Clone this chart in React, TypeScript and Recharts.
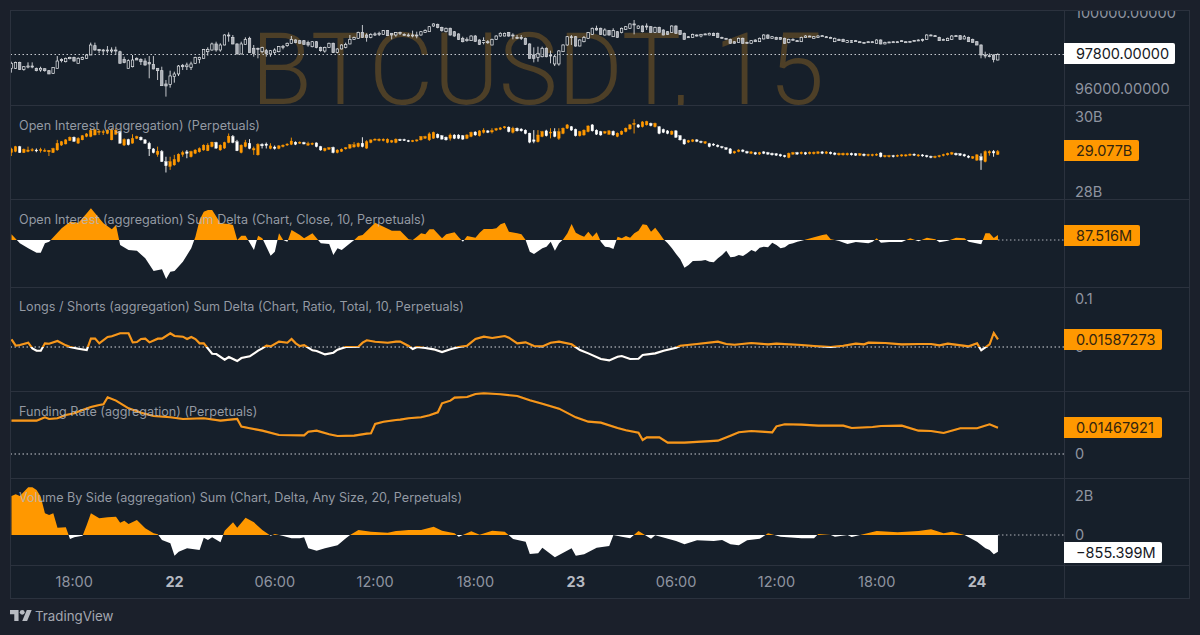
import React from "react";
import { ComposedChart, Bar, Area, Line, XAxis, YAxis, ReferenceLine } from "recharts";

const priceOpen = [97070,97070,97385,97015,97140,97190,97070,96980,97050,96945,96805,97070,97545,97420,97580,97650,97335,97545,97600,97775,98270,98075,98040,98040,98005,98040,97950,97545,97070,97155,97600,97545,97455,97370,97280,97070,96945,96240,96220,96630,96770,97230,97155,97120,97335,97545,97600,97950,98040,98360,98040,98305,98835,98710,98360,97830,98325,98660,98130,98130,97950,98005,97830,97900,97950,98200,98270,98395,98570,98535,98535,98430,98215,98480,98180,97985,98180,98395,97915,98095,98180,98360,98605,98660,98975,98835,98695,98870,98905,98870,99065,98925,98835,98940,98870,98835,98835,98835,98835,98975,99010,99310,99400,99240,99010,99190,99010,98890,98660,98535,98535,98780,98570,98430,98480,98305,98605,98780,98780,98960,98835,98710,98710,98660,98360,97775,97650,97685,98130,97775,97300,97300,97950,98305,98745,98745,98250,98480,98660,98870,99190,99190,98835,99065,98745,99010,98960,99135,99190,99420,99190,99310,99310,99275,98975,99240,99100,99010,98975,99310,99065,98925,98745,98695,98835,98780,98890,98835,98925,98925,98710,98660,98605,98480,98430,98660,98445,98395,98570,98480,98625,98835,98660,98710,98695,98660,98430,98605,98535,98480,98710,98780,98660,98710,98780,98745,98710,98480,98605,98605,98445,98535,98535,98480,98445,98480,98480,98395,98570,98360,98465,98480,98480,98535,98480,98500,98550,98570,98605,98605,98835,98800,98710,98605,98535,98605,98800,98800,98625,98710,98605,98480,98305,97775,97740,97775,97510];
const priceClose = [97335,97385,97015,97155,97190,97140,96945,97070,96945,96770,97105,97455,97475,97600,97650,97455,97600,97650,97775,98305,98040,98005,98025,98025,98040,98005,97335,97370,97475,97510,97510,97420,97245,97300,97035,96945,96150,96135,96665,96770,97190,97155,97245,97300,97650,97650,98075,98075,98360,98040,98305,98835,98800,98360,97830,98360,98605,97900,97865,98095,98165,97865,98005,98040,98220,98235,98395,98605,98430,98395,98340,98305,98480,98165,98005,98180,98395,97900,98095,98305,98340,98605,98695,98975,98710,98710,98870,98890,98925,99065,98800,98835,98960,98960,98855,98820,98820,98820,99010,99065,99275,99420,99225,99065,99190,98835,98780,98605,98480,98605,98780,98500,98340,98535,98430,98605,98780,98925,98925,98780,98820,98695,98695,98340,97600,97600,97865,98130,97685,97760,97685,97990,98305,98745,98730,98250,98570,98710,98960,99190,99100,98870,99100,98835,99065,98710,99190,99275,99420,99400,99310,99010,99295,98975,99240,98975,98835,98870,99310,98925,98870,98605,98730,98870,98820,98870,98870,98925,98800,98710,98695,98640,98395,98395,98660,98395,98430,98535,98480,98660,98835,98660,98745,98605,98605,98395,98605,98590,98515,98710,98780,98745,98745,98780,98800,98730,98695,98660,98535,98480,98535,98445,98515,98465,98430,98465,98465,98570,98360,98445,98445,98465,98465,98515,98465,98480,98535,98550,98590,98835,98820,98780,98535,98590,98660,98780,98780,98605,98745,98480,98445,98305,97775,97760,97720,97545,97800];
const priceHigh = [97420,97420,97420,97190,97385,97385,97105,97155,97070,96980,97105,97720,97600,97635,97685,97685,97650,97685,97830,98430,98430,98095,98095,98250,98180,98215,98005,97685,97545,97775,97650,97600,97600,97720,97720,97070,97155,96450,96945,96890,97245,97300,97370,97420,97685,97685,98095,98180,98430,98480,98395,98870,98975,98835,98395,98480,98710,98745,98305,98165,98215,98095,98040,98130,98250,98305,98430,98780,98605,98570,98570,98535,98515,98515,98215,98215,98430,98430,98130,98340,98430,98835,98745,99010,99365,98925,98925,98975,99010,99100,99100,98925,98995,99010,98925,98925,99065,99010,99045,99135,99310,99450,99435,99275,99225,99225,99045,98925,98745,98710,98820,98835,98605,98710,98570,98640,98820,98975,98960,98995,98925,98835,98835,98695,98395,98180,98215,98215,98180,98005,97775,98040,98340,98780,98835,98780,98605,98780,98995,99225,99330,99225,99190,99100,99190,99045,99225,99310,99450,99630,99345,99345,99450,99310,99275,99275,99135,99045,99345,99345,99100,98960,98780,98905,98870,98890,98925,98960,98960,98960,98745,98675,98640,98515,98695,98695,98480,98570,98605,98695,98870,98870,98780,98745,98730,98695,98640,98660,98570,98745,98820,98800,98780,98820,98835,98780,98745,98695,98640,98640,98570,98570,98570,98500,98465,98500,98500,98605,98605,98480,98480,98500,98500,98550,98500,98515,98570,98605,98640,98870,98870,98835,98745,98640,98695,98835,98835,98835,98835,98745,98640,98515,98340,97950,97865,97810,97865];
const priceLow = [96840,97035,96980,96945,97070,97070,96910,96890,96890,96770,96770,97070,97385,97385,97545,97420,97335,97510,97565,97775,98005,97865,97810,97865,97865,97775,97335,97335,97070,97120,97510,97245,97210,96540,97015,96450,96150,95570,96045,96310,96660,96980,96980,96980,97300,97335,97580,97740,98005,97950,97950,98290,98480,98340,97810,97810,98325,97900,97685,97600,97865,97685,97685,97775,97915,98075,98215,98375,98395,98375,98325,98215,98180,98130,97950,97900,98160,97880,97865,98075,98130,98340,98570,98625,98695,98480,98660,98780,98780,98855,98780,98605,98745,98835,98820,98745,98710,98660,98800,98960,99010,99275,99190,99010,98975,98800,98745,98570,98445,98480,98515,98465,98305,98340,98360,98290,98570,98745,98765,98745,98605,98660,98570,98305,97580,97385,97420,97650,97650,97335,97190,97210,97935,98270,98305,98215,98235,98445,98625,98835,99065,98835,98800,98800,98730,98695,98925,99100,99155,98870,99155,98975,99100,98960,98960,98960,98820,98835,98960,98890,98835,98590,98695,98675,98745,98710,98855,98820,98780,98695,98675,98625,98375,98375,98410,98375,98410,98375,98465,98465,98605,98625,98640,98590,98590,98360,98395,98570,98500,98465,98695,98730,98640,98695,98765,98710,98675,98465,98515,98465,98430,98430,98500,98445,98410,98445,98445,98375,98340,98340,98430,98445,98445,98480,98445,98465,98515,98535,98480,98590,98800,98765,98515,98570,98515,98570,98765,98590,98605,98465,98430,98290,97600,97600,97650,97385,97490];

const oiOpen = [29.05,29.08,29.21,29.05,29.08,29.11,29.12,29.10,29.09,29.07,29.05,29.12,29.25,29.28,29.37,29.46,29.30,29.39,29.48,29.48,29.52,29.59,29.59,29.56,29.39,29.54,29.61,29.25,29.40,29.30,29.43,29.46,29.39,29.30,29.15,29.00,29.08,28.81,28.68,28.72,28.81,29.00,29.07,28.94,29.03,29.07,29.12,29.10,29.21,29.32,29.12,29.17,29.32,29.48,29.34,29.05,29.21,29.30,29.12,28.99,29.27,29.28,29.16,29.20,29.16,29.21,29.25,29.27,29.33,29.30,29.32,29.25,29.27,29.31,29.21,29.10,29.14,29.19,29.05,29.08,29.15,29.17,29.20,29.21,29.30,29.17,29.32,29.39,29.37,29.37,29.32,29.33,29.32,29.40,29.40,29.37,29.35,29.36,29.39,29.43,29.39,29.43,29.54,29.50,29.46,29.43,29.52,29.52,29.50,29.43,29.48,29.60,29.50,29.59,29.63,29.60,29.65,29.67,29.71,29.73,29.59,29.70,29.68,29.65,29.57,29.39,29.34,29.48,29.63,29.57,29.61,29.43,29.56,29.70,29.74,29.67,29.50,29.52,29.61,29.79,29.65,29.61,29.57,29.54,29.62,29.48,29.54,29.61,29.68,29.80,29.79,29.74,29.79,29.83,29.74,29.74,29.67,29.63,29.54,29.63,29.50,29.40,29.33,29.35,29.39,29.35,29.30,29.29,29.28,29.25,29.21,29.18,29.15,29.04,29.08,29.12,29.08,29.03,29.05,29.01,29.07,29.05,29.03,29.02,29.00,28.97,28.92,29.01,29.05,29.02,29.05,29.02,29.02,29.03,29.07,29.03,29.06,29.04,28.99,28.99,28.99,29.03,29.02,28.98,29.01,28.97,28.97,28.98,29.04,28.94,28.94,28.97,28.95,28.96,28.96,28.98,29.01,28.96,28.99,28.97,28.95,28.92,28.94,28.97,28.99,29.01,29.03,29.02,29.00,28.96,28.90,28.85,28.94,28.81,29.04,29.08,29.00];
const oiClose = [29.15,29.21,29.05,29.14,29.12,29.13,29.10,29.13,29.11,29.11,29.16,29.30,29.34,29.39,29.46,29.35,29.43,29.50,29.55,29.64,29.66,29.62,29.61,29.65,29.65,29.65,29.30,29.40,29.26,29.43,29.48,29.39,29.30,29.15,29.05,29.09,28.81,28.70,28.81,28.87,29.01,29.05,29.03,29.08,29.12,29.16,29.25,29.25,29.33,29.17,29.25,29.32,29.49,29.32,29.10,29.25,29.32,29.16,29.16,29.27,29.23,29.24,29.23,29.16,29.23,29.25,29.28,29.36,29.27,29.33,29.28,29.29,29.30,29.21,29.12,29.16,29.18,29.05,29.12,29.14,29.18,29.26,29.26,29.30,29.21,29.34,29.39,29.41,29.41,29.41,29.41,29.37,29.41,29.37,29.37,29.35,29.37,29.39,29.48,29.48,29.55,29.59,29.45,29.41,29.39,29.52,29.43,29.43,29.41,29.52,29.59,29.52,29.63,29.65,29.59,29.64,29.69,29.71,29.74,29.61,29.70,29.63,29.63,29.56,29.33,29.35,29.52,29.61,29.50,29.60,29.48,29.61,29.70,29.79,29.65,29.50,29.61,29.65,29.76,29.63,29.54,29.52,29.61,29.63,29.52,29.57,29.62,29.70,29.79,29.83,29.73,29.87,29.88,29.77,29.83,29.56,29.59,29.56,29.62,29.46,29.39,29.28,29.37,29.39,29.35,29.32,29.34,29.21,29.25,29.21,29.18,29.14,29.03,29.08,29.12,29.08,29.04,29.07,29.01,29.05,29.03,29.01,28.99,28.98,28.96,28.94,29.03,29.05,29.01,29.06,29.01,29.06,29.06,29.07,29.03,29.07,29.02,29.00,29.03,29.03,29.03,28.99,28.98,29.02,28.97,29.00,29.00,29.01,28.94,28.97,28.97,28.94,28.98,28.99,28.99,29.01,28.98,28.99,28.96,28.94,28.92,28.95,28.97,29.00,29.03,29.05,28.99,28.98,28.96,28.92,28.94,28.99,28.85,29.08,29.08,29.04,29.077];
const oiHigh = [29.18,29.23,29.23,29.16,29.21,29.17,29.16,29.18,29.16,29.12,29.18,29.39,29.36,29.41,29.48,29.48,29.46,29.52,29.57,29.70,29.68,29.66,29.66,29.67,29.70,29.70,29.63,29.43,29.42,29.54,29.50,29.48,29.41,29.34,29.17,29.21,29.12,28.94,28.94,28.99,29.03,29.10,29.12,29.10,29.14,29.19,29.27,29.30,29.34,29.34,29.27,29.34,29.56,29.52,29.39,29.27,29.39,29.41,29.21,29.30,29.30,29.32,29.30,29.24,29.25,29.27,29.30,29.45,29.35,29.35,29.34,29.34,29.32,29.32,29.23,29.18,29.20,29.21,29.14,29.16,29.20,29.28,29.33,29.32,29.46,29.38,29.40,29.43,29.43,29.43,29.43,29.39,29.43,29.42,29.42,29.39,29.39,29.40,29.49,29.50,29.59,29.61,29.56,29.52,29.48,29.56,29.54,29.54,29.52,29.54,29.61,29.62,29.65,29.70,29.65,29.70,29.71,29.73,29.76,29.75,29.74,29.72,29.70,29.67,29.58,29.65,29.65,29.63,29.66,29.70,29.70,29.70,29.72,29.81,29.76,29.69,29.63,29.67,29.78,29.81,29.67,29.63,29.63,29.65,29.64,29.59,29.64,29.72,29.81,29.94,29.81,29.89,29.90,29.85,29.85,29.76,29.69,29.65,29.64,29.65,29.52,29.42,29.39,29.41,29.41,29.37,29.36,29.31,29.30,29.27,29.23,29.20,29.17,29.10,29.14,29.14,29.10,29.09,29.07,29.07,29.09,29.07,29.05,29.04,29.02,28.99,29.05,29.07,29.07,29.08,29.07,29.08,29.08,29.09,29.09,29.09,29.08,29.06,29.05,29.05,29.05,29.05,29.04,29.04,29.03,29.02,29.02,29.03,29.06,28.99,28.99,28.99,29.00,29.01,29.01,29.03,29.03,29.01,29.01,28.99,28.97,28.97,28.99,29.02,29.05,29.07,29.05,29.04,29.02,28.98,28.96,29.01,29.03,29.11,29.11,29.12,29.12];
const oiLow = [28.96,29.06,29.04,29.04,29.06,29.08,29.06,29.05,29.07,28.96,29.04,29.10,29.23,29.27,29.36,29.34,29.29,29.38,29.46,29.46,29.51,29.52,29.52,29.54,29.38,29.53,29.29,29.23,29.24,29.29,29.41,29.37,29.28,28.96,29.03,28.94,28.80,28.52,28.59,28.70,28.79,28.94,28.90,28.92,29.01,29.05,29.10,29.09,29.19,29.15,29.10,29.15,29.30,29.30,29.09,29.03,29.19,29.14,28.99,28.97,29.16,29.16,29.14,29.13,29.14,29.19,29.23,29.25,29.25,29.28,29.27,29.23,29.25,29.19,29.10,29.08,29.12,29.03,29.03,29.07,29.13,29.15,29.18,29.19,29.19,29.15,29.30,29.37,29.35,29.35,29.30,29.31,29.30,29.36,29.36,29.33,29.33,29.34,29.37,29.42,29.36,29.42,29.43,29.40,29.37,29.37,29.41,29.41,29.39,29.41,29.46,29.50,29.48,29.56,29.57,29.56,29.63,29.65,29.69,29.59,29.56,29.61,29.61,29.54,29.30,29.30,29.32,29.46,29.48,29.43,29.46,29.39,29.54,29.68,29.63,29.48,29.48,29.50,29.59,29.61,29.52,29.50,29.55,29.52,29.50,29.46,29.52,29.59,29.66,29.56,29.71,29.72,29.77,29.75,29.72,29.54,29.57,29.54,29.52,29.44,29.37,29.26,29.31,29.33,29.33,29.30,29.28,29.19,29.23,29.19,29.16,29.12,29.01,29.02,29.06,29.06,29.02,29.01,28.99,28.99,29.01,28.99,28.97,28.96,28.94,28.92,28.90,28.99,28.99,29.00,28.99,29.00,29.00,29.01,29.01,29.01,29.00,28.98,28.97,28.97,28.97,28.97,28.96,28.96,28.95,28.95,28.95,28.96,28.92,28.92,28.92,28.92,28.93,28.94,28.94,28.96,28.96,28.94,28.94,28.92,28.90,28.90,28.92,28.95,28.97,28.99,28.97,28.96,28.94,28.90,28.88,28.83,28.59,28.79,28.97,28.94,28.99];

const deltaIdx = [0,2,4,6,7,8,9,10,12,14,16,18,19,20,22,24,25,26,28,30,32,34,36,37,38,39,41,43,44,45,46,47,48,50,52,53,54,55,56,58,59,60,62,63,64,65,66,67,69,70,72,74,76,77,78,79,81,82,83,84,87,89,91,92,93,95,96,97,98,99,100,101,103,104,106,107,108,109,111,112,113,115,116,117,118,119,121,122,123,124,125,127,128,129,130,131,132,133,134,135,136,137,138,139,140,141,142,143,144,145,146,147,148,149,150,151,152,153,154,155,156,157,158,159,160,161,162,163,165,166,167,168,169,170,171,172,173,174,175,176,177,178,179,180,181,182,183,184,185,186,187,188,189,192,194,195,196,197,198,200,202,205,206,207,208,210,213,215,217,219,221,222,224,226,228,229,232,233,234,235,236];
const deltaVal = [99,-58,-146,-222,-222,-58,-29,47,204,321,303,466,554,466,292,187,262,-87,-175,-187,-321,-542,-513,-682,-554,-542,-379,-146,58,350,496,525,525,292,280,262,0,76,76,-175,76,29,-274,-204,117,0,-29,175,87,29,117,-58,-70,-262,-146,-175,-58,0,70,87,303,233,163,163,163,12,0,58,117,99,187,187,29,99,134,47,-29,70,41,128,192,192,204,274,303,146,117,99,0,-204,-245,-146,-117,-29,-187,-58,12,117,280,128,87,58,146,58,134,-29,-117,-128,-157,58,29,70,41,117,163,274,262,146,216,117,12,-58,-146,-245,-338,-484,-437,-367,-361,-350,-379,-391,-321,-262,-187,-303,-292,-262,-280,-233,-175,-204,-134,-117,-128,-47,-87,-146,-128,-76,-58,-29,-12,47,87,99,12,0,-17,-70,-35,-58,-29,29,-47,-35,-35,29,-23,41,12,-41,-12,41,29,-29,-76,117,117,35,87.516];

const ratioIdx = [0,1,2,4,5,6,7,8,9,11,13,14,16,18,19,20,21,23,24,26,28,29,30,31,32,33,35,36,38,39,41,42,43,44,45,46,48,49,51,52,54,55,57,59,60,61,62,64,66,67,68,69,70,72,73,75,77,78,80,83,84,85,87,90,92,93,95,96,97,99,101,103,105,107,109,111,113,115,118,119,121,123,125,127,129,131,134,136,138,141,143,145,146,148,150,151,154,156,159,160,164,169,171,173,177,181,183,189,192,196,199,202,204,205,209,213,217,220,222,224,229,231,232,234,235,236];
const ratioVal = [.0161,.0028,.0042,.0091,-.0028,-.0077,-.0077,.0077,.007,.0126,.0035,0,-.0035,-.0063,.0175,.0175,.0077,.021,.0224,.0287,.0287,.0098,.0105,.0168,.0175,.0098,.0175,.0175,.0287,.0231,.0217,.0168,.021,.0168,.0077,.0077,-.014,-.0147,-.0266,-.021,-.0294,-.0231,-.0196,-.0077,-.0028,.0028,.0014,.0112,.0091,.0168,.0077,.0021,.0042,-.007,-.0084,-.0154,-.0119,-.0056,0,.0007,.0091,.014,.0112,.0091,.0112,.0112,.0021,-.0042,0,-.0021,-.0049,-.0105,-.0049,0,.0028,.0168,.0217,.0189,.0231,.0196,.0077,.0098,.0021,.0014,.0091,.0112,.0056,-.0063,-.0133,-.0252,-.028,-.0203,-.0189,-.0252,-.0245,-.0168,-.0133,-.0077,-.0014,.0028,.0063,.0112,.0063,.0049,.0084,.0056,.007,.0042,.0021,0,.0028,.007,.0056,.0091,.0084,.0056,.0063,.0063,.0035,.007,.0014,.0077,-.007,.0056,.0294,.01587273];

const fundingIdx = [0,6,7,8,9,11,13,15,17,19,21,22,23,25,28,31,34,38,41,46,50,54,55,57,60,64,70,71,73,76,78,82,85,86,87,89,92,93,95,98,100,102,103,105,106,109,111,113,117,121,124,127,131,135,138,141,145,147,150,151,152,155,157,161,165,169,172,174,177,182,183,185,189,193,199,201,206,208,213,217,220,223,227,231,234,236];
const fundingVal = [.01858,.01858,.01951,.02044,.01951,.01988,.02174,.02267,.02453,.0262,.02731,.02768,.03159,.02973,.02545,.02304,.02118,.02044,.01951,.01988,.01858,.01951,.01524,.01431,.01301,.01059,.0104,.01245,.01301,.01096,.01003,.01022,.01133,.01152,.01672,.01802,.01895,.01914,.01988,.02044,.02155,.02323,.02824,.02973,.0314,.03177,.03344,.03382,.03326,.03233,.02991,.02806,.02527,.02044,.01802,.01747,.01449,.01319,.01189,.0078,.00929,.00929,.00632,.00632,.00687,.00743,.01022,.01208,.01282,.01208,.01542,.01654,.01635,.01579,.01579,.01449,.01505,.01561,.01579,.01301,.01282,.01171,.01431,.01431,.01654,.01467921];

const volumeIdx = [0,1,2,4,5,6,7,8,9,10,11,13,14,15,17,18,19,21,23,25,26,27,28,30,32,34,35,36,38,39,40,42,45,46,47,48,50,51,53,54,56,58,60,62,63,65,67,69,70,71,73,75,78,80,81,83,86,88,90,92,93,95,98,101,103,106,107,110,112,115,118,120,123,124,126,127,130,134,135,137,140,143,144,146,148,150,153,154,159,161,164,168,170,172,174,176,179,181,184,189,192,193,196,197,200,201,207,212,217,220,223,225,228,231,233,234,235,236];
const volumeVal = [2000,2085,2000,2444,2444,2307,1965,1111,1025,1111,376,393,-205,-120,-34,513,1111,855,906,940,632,735,564,769,342,85,34,-256,-427,-1060,-855,-684,-769,-137,-256,-120,-376,222,649,376,889,649,256,-34,51,-51,-171,-171,-120,-684,-803,-684,-530,-171,0,256,171,137,120,205,222,256,256,427,222,85,-85,188,17,222,171,-205,-342,-974,-940,-649,-1145,-684,-1060,-991,-649,-564,0,-85,-171,205,-188,-17,-308,-479,-273,-308,-256,-479,-530,-273,-188,85,-85,-171,-171,51,0,-85,0,-103,205,137,205,291,85,171,0,-342,-684,-769,-991,-855.399];

const timeTickIdx = [15,39,63,87,111,135,159,183,207,231];
const timeTickLabels = ["18:00","22","06:00","12:00","18:00","23","06:00","12:00","18:00","24"];
const dayTicks = ["22","23","24"];

const priceTicks = [96000,100000];
const priceTickLabels = ["96000.00000","100000.00000"];
const oiTicks = [28,30];
const oiTickLabels = ["28B","30B"];
const ratioTicks = [0,0.1];
const ratioTickLabels = ["0","0.1"];
const fundingTicks = [0];
const fundingTickLabels = ["0"];
const volumeTicks = [0,2000];
const volumeTickLabels = ["0","2B"];

const titles = [
  "Open Interest (aggregation) (Perpetuals)",
  "Open Interest (aggregation) Sum Delta (Chart, Close, 10, Perpetuals)",
  "Longs / Shorts (aggregation) Sum Delta (Chart, Ratio, Total, 10, Perpetuals)",
  "Funding Rate (aggregation) (Perpetuals)",
  "Volume By Side (aggregation) Sum (Chart, Delta, Any Size, 20, Perpetuals)",
];

const ORANGE = "#ff9800";
const WHITE = "#ffffff";
const BG = "#1b202b";
const PANE = "#161f2a";
const RULE = "#2b323e";
const MUTED = "#8f94a0";
const FONT = "Inter, Roboto, 'Liberation Sans', sans-serif";
const X_DOMAIN: [number, number] = [-0.36, 251.8];
const LEFT = 10;
const WIDTH = 1179;
const AXIS_W = 125;
const LAST = 236;

const priceRows = priceOpen.map((o, i) => ({ i, o, c: priceClose[i], h: priceHigh[i], l: priceLow[i] }));
const oiRows = oiOpen.map((o, i) => ({ i, o, c: oiClose[i], h: oiHigh[i], l: oiLow[i] }));
const deltaRows = deltaIdx.map((i, k) => ({ i, v: deltaVal[k] }));
const ratioRows = ratioIdx.map((i, k) => ({ i, v: ratioVal[k] }));
const fundingRows = fundingIdx.map((i, k) => ({ i, v: fundingVal[k] }));
const volumeRows = volumeIdx.map((i, k) => ({ i, v: volumeVal[k] }));

const zeroOffset = (vals: number[]) => {
  const hi = Math.max(...vals);
  const lo = Math.min(...vals);
  return hi / (hi - lo);
};

const makeCandle = (upFill: string, upStroke: string, downFill: string, downStroke: string, bodyW: number, sw: number) => (props: any) => {
  const { x, y, width, height, payload } = props;
  const { o, c, h, l } = payload;
  const k = h === l ? 0 : height / (h - l);
  const top = y + (h - Math.max(o, c)) * k;
  const bot = y + (h - Math.min(o, c)) * k;
  const cx = x + width / 2;
  const up = c >= o;
  const stroke = up ? upStroke : downStroke;
  const fill = up ? upFill : downFill;
  return (
    <g>
      <line x1={cx} x2={cx} y1={y} y2={y + height} stroke={stroke} strokeWidth={0.9} />
      <rect x={cx - bodyW / 2} y={top} width={bodyW} height={Math.max(bot - top, 1)} fill={fill} stroke={stroke} strokeWidth={sw} />
    </g>
  );
};

const priceCandle = makeCandle(PANE, "#e8eaed", "#a9adb5", "#d5d7db", 2.4, 0.7);
const oiCandle = makeCandle(ORANGE, ORANGE, WHITE, WHITE, 2.6, 0.3);

const axisTick = { fill: MUTED, fontSize: 14.5, fontFamily: FONT };

const labelFor = (ticks: number[], labels: string[]) => (v: number) => labels[ticks.indexOf(v)] ?? "";

const Pane = ({ top, height, rows, domain, ticks, labels, children, xAxis, bottom = 0 }: any) => (
  <div style={{ position: "absolute", left: LEFT, top, width: WIDTH, height: height + bottom, overflow: "hidden" }}>
    <ComposedChart width={WIDTH} height={height + bottom} data={rows} margin={{ top: 0, right: 0, bottom: 0, left: 0 }} style={{ background: "transparent" }}>
      {xAxis ?? <XAxis dataKey="i" type="number" domain={X_DOMAIN} allowDataOverflow hide />}
      <YAxis
        orientation="right"
        width={AXIS_W}
        domain={domain}
        allowDataOverflow
        ticks={ticks ?? []}
        interval={0}
        tickFormatter={ticks ? labelFor(ticks, labels) : undefined}
        axisLine={false}
        tickLine={false}
        tickMargin={5}
        tick={axisTick}
      />
      {children}
    </ComposedChart>
  </div>
);

const TimeTick = ({ x, y, payload }: any) => {
  const label = timeTickLabels[timeTickIdx.indexOf(payload.value)];
  const bold = dayTicks.includes(label);
  return (
    <text x={x} y={y + 8} textAnchor="middle" dominantBaseline="central" fill={bold ? "#b6bac2" : MUTED} fontSize={14.5} fontWeight={bold ? 700 : 400} fontFamily={FONT}>
      {label}
    </text>
  );
};

const Tag = ({ top, right, height = 21, orange, text }: any) => (
  <div style={{ position: "absolute", left: 1064, top, width: right - 1064, height, background: orange ? ORANGE : WHITE, color: orange ? "#33250f" : "#15181e", borderRadius: "0 2px 2px 0", fontFamily: FONT, fontSize: 14.5, lineHeight: `${height}px`, paddingLeft: 12, boxSizing: "border-box", whiteSpace: "nowrap" }}>
    {text}
  </div>
);

const Title = ({ top, text }: any) => (
  <div style={{ position: "absolute", left: 19, top, height: 16, lineHeight: "16px", color: "rgba(178,183,192,0.82)", fontFamily: FONT, fontSize: 12.6, whiteSpace: "nowrap" }}>
    {text}
  </div>
);

const Hr = ({ y }: any) => <div style={{ position: "absolute", left: 10, top: y, width: 1179, height: 1, background: RULE }} />;

const lineShadow = { filter: "drop-shadow(0 0.8px 0 rgba(120,70,10,0.55))" };

export default function App() {
  const dOff = zeroOffset(deltaVal);
  const vOff = zeroOffset(volumeVal);
  const rOff = zeroOffset(ratioVal);
  return (
    <div style={{ position: "fixed", left: 0, top: 0, width: 1200, height: 635, background: BG, overflow: "hidden" }}>
      <div style={{ position: "absolute", left: 10, top: 10, width: 1054, height: 555, background: PANE }} />
      <div style={{ position: "absolute", left: 1064, top: 10, width: 125, height: 588, background: PANE }} />
      <div style={{ position: "absolute", left: 10, top: 565, width: 1054, height: 33, background: PANE }} />

      <div style={{ position: "absolute", left: 10, top: 10, width: 1054, height: 95, overflow: "hidden" }}>
        <div style={{ position: "absolute", left: 241, top: 2, fontFamily: "Roboto, sans-serif", fontWeight: 300, fontSize: 99.5, lineHeight: "116px", color: "#4d3f27", whiteSpace: "nowrap" }}>BTCUSDT, 15</div>
      </div>

      <Pane top={10} height={95} rows={priceRows} domain={[95126, 100159]} ticks={priceTicks} labels={priceTickLabels}>
        <ReferenceLine y={97800} stroke="#c9ccd2" strokeDasharray="1.5 2.5" ifOverflow="hidden" />
        <Bar dataKey={(d: any) => [d.l, d.h]} barSize={5} shape={priceCandle} isAnimationActive={false} />
      </Pane>

      <Pane top={105} height={94} rows={oiRows} domain={[27.813, 30.32]} ticks={oiTicks} labels={oiTickLabels}>
        <Bar dataKey={(d: any) => [d.l, d.h]} barSize={5} shape={oiCandle} isAnimationActive={false} />
      </Pane>

      <Pane top={199} height={88} rows={deltaRows} domain={[-822.5, 717.5]}>
        <defs>
          <linearGradient id="dFill" x1="0" y1="0" x2="0" y2="1">
            <stop offset={dOff} stopColor={ORANGE} />
            <stop offset={dOff} stopColor={WHITE} />
          </linearGradient>
        </defs>
        <ReferenceLine segment={[{ x: LAST, y: 0 }, { x: X_DOMAIN[1], y: 0 }]} stroke="#aeb2b9" strokeDasharray="1.5 2.5" />
        <Area dataKey="v" type="linear" baseValue={0} fill="url(#dFill)" fillOpacity={1} stroke="none" isAnimationActive={false} dot={false} activeDot={false} />
      </Pane>

      <Pane top={287} height={104} rows={ratioRows} domain={[-0.0922, 0.1258]} ticks={ratioTicks} labels={ratioTickLabels}>
        <defs>
          <linearGradient id="rStroke" x1="0" y1="0" x2="0" y2="1">
            <stop offset={rOff} stopColor="#f6971c" />
            <stop offset={rOff} stopColor={WHITE} />
          </linearGradient>
        </defs>
        <ReferenceLine y={0} stroke="#d5d8dc" strokeDasharray="1.5 2.5" />
        <Line dataKey="v" type="linear" stroke="url(#rStroke)" strokeWidth={2.1} dot={false} activeDot={false} isAnimationActive={false} style={lineShadow} />
      </Pane>

      <Pane top={391} height={87} rows={fundingRows} domain={[-0.01337, 0.0351]} ticks={fundingTicks} labels={fundingTickLabels}>
        <ReferenceLine y={0} stroke="#c9ccd2" strokeDasharray="1.5 2.5" />
        <Line dataKey="v" type="linear" stroke="#f6971c" strokeWidth={2.1} dot={false} activeDot={false} isAnimationActive={false} style={lineShadow} />
      </Pane>

      <Pane
        top={478}
        height={87}
        bottom={33}
        rows={volumeRows}
        domain={[-1538, 2923]}
        ticks={volumeTicks}
        labels={volumeTickLabels}
        xAxis={
          <XAxis dataKey="i" type="number" domain={X_DOMAIN} allowDataOverflow ticks={timeTickIdx} interval={0} height={33} axisLine={false} tickLine={false} tick={<TimeTick />} />
        }
      >
        <defs>
          <linearGradient id="vFill" x1="0" y1="0" x2="0" y2="1">
            <stop offset={vOff} stopColor={ORANGE} />
            <stop offset={vOff} stopColor={WHITE} />
          </linearGradient>
        </defs>
        <ReferenceLine segment={[{ x: LAST, y: 0 }, { x: X_DOMAIN[1], y: 0 }]} stroke="#aeb2b9" strokeDasharray="1.5 2.5" />
        <Area dataKey="v" type="linear" baseValue={0} fill="url(#vFill)" fillOpacity={1} stroke="none" isAnimationActive={false} dot={false} activeDot={false} />
      </Pane>

      <Hr y={10} />
      <Hr y={105} />
      <Hr y={199} />
      <Hr y={287} />
      <Hr y={391} />
      <Hr y={478} />
      <Hr y={565} />
      <Hr y={598} />
      <div style={{ position: "absolute", left: 10, top: 10, width: 1, height: 588, background: RULE }} />
      <div style={{ position: "absolute", left: 1064, top: 10, width: 1, height: 588, background: RULE }} />
      <div style={{ position: "absolute", left: 1189, top: 10, width: 1, height: 589, background: RULE }} />

      <Title top={118} text={titles[0]} />
      <Title top={212} text={titles[1]} />
      <Title top={299} text={titles[2]} />
      <Title top={404} text={titles[3]} />
      <Title top={490} text={titles[4]} />

      <Tag top={43} right={1175} text="97800.00000" />
      <Tag top={140} right={1139} orange text="29.077B" />
      <Tag top={225} right={1140} orange text="87.516M" />
      <Tag top={329} right={1162} orange text="0.01587273" />
      <Tag top={417} right={1162} orange text="0.01467921" />
      <Tag top={542} right={1162} text="−855.399M" />

      <svg style={{ position: "absolute", left: 10, top: 607 }} width="22" height="18" viewBox="0 0 36 28">
        <path fill="#b8bbc2" d="M14 22H7V11H0V4h14v18zM28 22h-8l7.5-18h8L28 22z" />
        <circle fill="#b8bbc2" cx="20" cy="8" r="4" />
      </svg>
      <div style={{ position: "absolute", left: 35, top: 607, height: 18, lineHeight: "18px", color: "#a3a7b0", fontFamily: FONT, fontSize: 13.3, whiteSpace: "nowrap" }}>TradingView</div>
    </div>
  );
}
